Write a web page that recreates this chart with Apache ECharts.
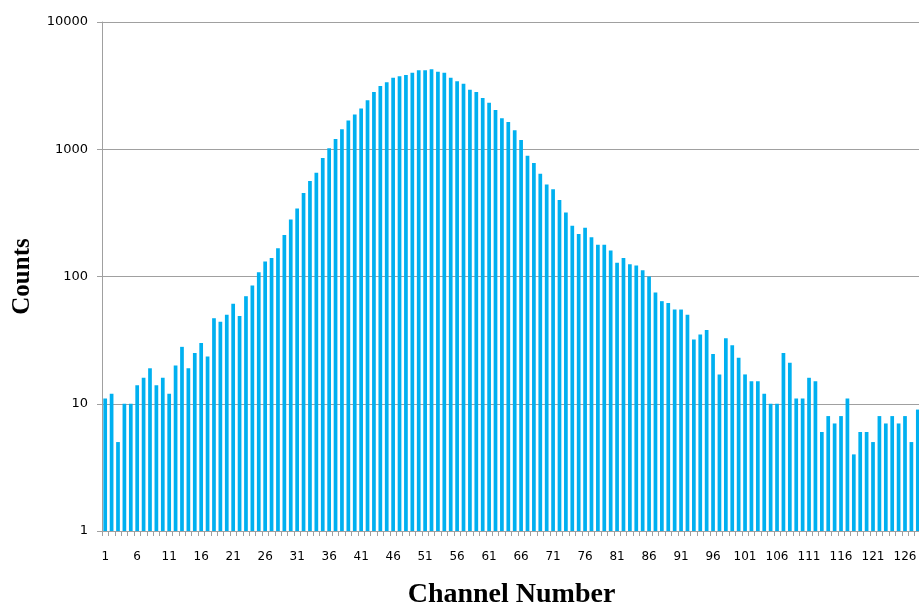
<!DOCTYPE html>
<html>
<head>
<meta charset="utf-8">
<script src="https://cdn.jsdelivr.net/npm/echarts@6/dist/echarts.min.js"></script>
<style>html,body{margin:0;padding:0;background:#fff;}#c{width:919px;height:605px;}</style>
</head>
<body>
<div id="c"></div>
<script>
const counts = [
  11, 12, 5, 10, 10, 14, 16, 19, 14, 16,
  12, 20, 28, 19, 25, 30, 23.5, 47, 44, 50,
  61, 49, 70, 85, 108, 131, 140, 167, 212, 281,
  343, 453, 563, 654, 855, 1020, 1205, 1436, 1680, 1872,
  2086, 2427, 2820, 3143, 3360, 3650, 3745, 3835, 4000, 4170,
  4170, 4250, 4070, 4000, 3650, 3420, 3275, 2940, 2820, 2528,
  2323, 2033, 1749, 1636, 1408, 1182, 890, 779, 642, 528,
  484, 399, 319, 250, 216, 242, 203, 178, 178, 160,
  128, 140, 125, 122, 112, 100, 75, 64, 62, 55,
  55, 50, 32, 35, 38, 24.6, 17, 32.7, 28.8, 23,
  17, 15, 15, 12, 10, 10, 25, 21, 11, 11,
  16, 15, 6, 8, 7, 8, 11, 4, 6, 6,
  5, 8, 7, 8, 7, 8, 5, 9
];
const channels = counts.map((_, i) => String(i + 1));
const yTitle = 'Counts';
const xTitle = 'Channel Number';

const chart = echarts.init(document.getElementById('c'), null, {renderer: 'canvas'});
chart.setOption({
  animation: false,
  backgroundColor: '#ffffff',
  grid: {left: 102, right: -2, top: 22, bottom: 74, containLabel: false, outerBoundsMode: 'none'},
  xAxis: {
    type: 'category',
    data: channels,
    name: xTitle,
    nameLocation: 'middle',
    nameGap: 50,
    nameTextStyle: {fontFamily: 'Liberation Serif', fontWeight: 'bold', fontSize: 28, color: '#000'},
    axisLine: {lineStyle: {color: '#a0a0a0', width: 1}},
    axisTick: {show: true, interval: 0, length: 5, lineStyle: {color: '#a0a0a0'}},
    axisLabel: {interval: 4, margin: 20, fontFamily: 'DejaVu Sans', fontSize: 12, color: '#000'},
    splitLine: {show: false}
  },
  yAxis: {
    type: 'log',
    logBase: 10,
    min: 1,
    max: 10000,
    name: yTitle,
    nameLocation: 'middle',
    nameGap: 67,
    nameRotate: 90,
    nameTextStyle: {fontFamily: 'Liberation Serif', fontWeight: 'bold', fontSize: 25, color: '#000'},
    axisLine: {show: true, lineStyle: {color: '#a0a0a0', width: 1}},
    axisTick: {show: true, length: 5, lineStyle: {color: '#a0a0a0'}},
    axisLabel: {margin: 14, fontFamily: 'DejaVu Sans', fontSize: 13, color: '#000',
      formatter: v => String(Math.round(v))},
    splitLine: {show: true, lineStyle: {color: '#a0a0a0', width: 1}},
    minorTick: {show: false}
  },
  series: [{
    type: 'bar',
    data: counts,
    barWidth: '58%',
    itemStyle: {color: '#00b0f0'}
  }]
});
</script>
</body>
</html>
